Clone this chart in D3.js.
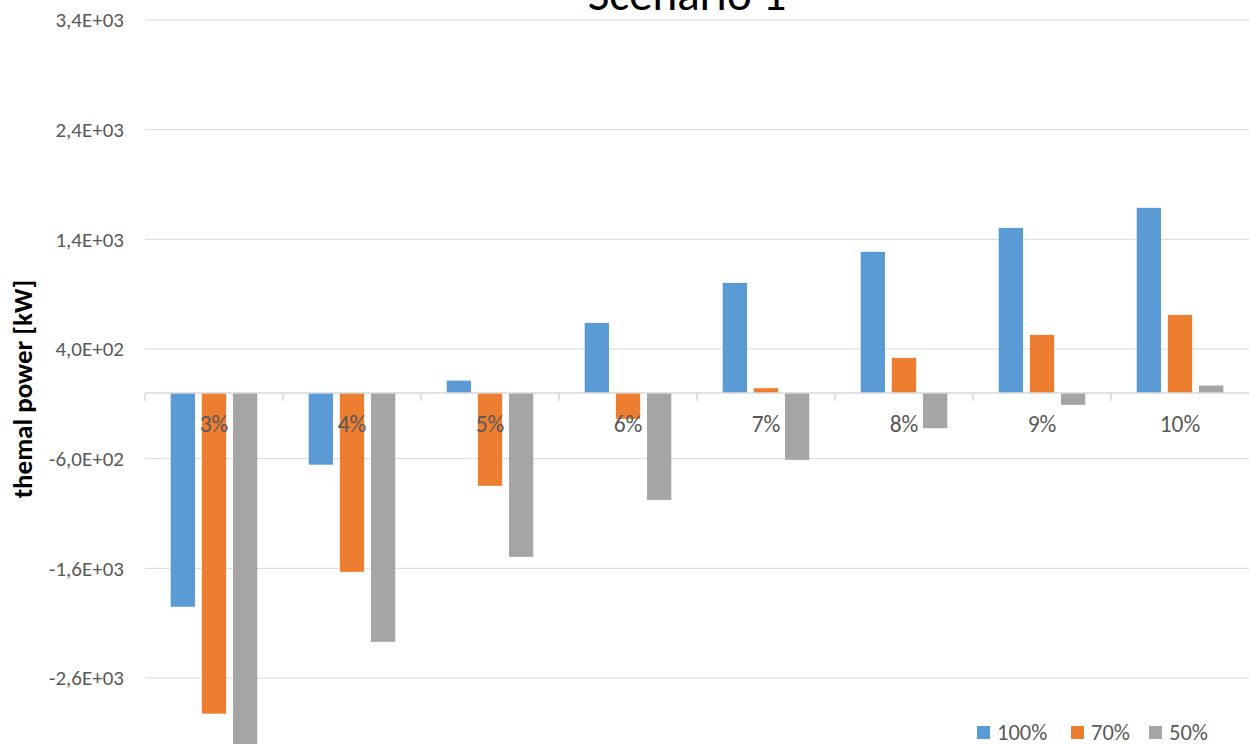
<!DOCTYPE html>
<html><head><meta charset="utf-8">
<script src="https://cdn.jsdelivr.net/npm/d3@7"></script>
<style>
html,body{margin:0;padding:0;background:#fff;overflow:hidden}
text{font-family:Carlito,Calibri,Lato,"Open Sans",sans-serif}
</style></head>
<body>
<svg id="c" width="1249" height="744"></svg>
<script>
const categories = ["3%","4%","5%","6%","7%","8%","9%","10%"];
const seriesNames = ["100%","70%","50%"];
const s100 = [-1950,-655,112,638,1003,1286,1504,1687];
const s70  = [-2925,-1632,-848,-237,43,319,529,711];
const s50  = [-3400,-2270,-1495,-976,-611,-322,-109,67];
const colors = ["#5B9BD5","#ED7D31","#A5A5A5"];
const yTicks = [3400,2400,1400,400,-600,-1600,-2600];
const title = "Scenario 1";
const yTitle = "themal power [kW]";

const series = [s100,s70,s50];
const svg = d3.select("#c");
const L = 145, R = 1249, T = 20, B = 787.7;

const y = d3.scaleLinear().domain([-3600,3400]).range([B,T]);
const x = d3.scaleBand().domain(categories).range([L,R]).paddingInner(0).paddingOuter(0);
const bw = x.bandwidth();
const xs = d3.scaleBand().domain(seriesNames).range([25.7, bw-25.7]).paddingInner(0.22).paddingOuter(0);

function fmt(v){
  if (v===0) return "0,0E+00";
  let e = Math.floor(Math.log10(Math.abs(v)));
  let m = v/Math.pow(10,e);
  let ms = m.toFixed(1).replace(".",",");
  let es = (e<0?"-":"+") + String(Math.abs(e)).padStart(2,"0");
  return ms+"E"+es;
}

// gridlines
svg.append("g").selectAll("line").data(yTicks).join("line")
  .attr("x1",L).attr("x2",R).attr("y1",d=>y(d)).attr("y2",d=>y(d))
  .attr("stroke","#d9d9d9").attr("stroke-width",1);

// y labels
svg.append("g").selectAll("text").data(yTicks).join("text")
  .attr("x",124).attr("y",d=>y(d)).attr("dy","0.35em")
  .attr("text-anchor","end").attr("font-size",21).attr("fill","#595959")
  .text(fmt);

// bars
categories.forEach((c,i)=>{
  series.forEach((s,j)=>{
    const v = s[i];
    svg.append("rect")
      .attr("x", x(c)+xs(seriesNames[j]))
      .attr("width", xs.bandwidth())
      .attr("y", y(Math.max(0,v)))
      .attr("height", Math.abs(y(v)-y(0)))
      .attr("fill", colors[j]);
  });
});

// x axis line and ticks
const y0 = y(0);
svg.append("line").attr("x1",L).attr("x2",R).attr("y1",y0).attr("y2",y0)
  .attr("stroke","#d9d9d9").attr("stroke-width",1.5);
const tickXs = categories.map(c=>x(c));
svg.append("g").selectAll("line").data(tickXs).join("line")
  .attr("x1",d=>d).attr("x2",d=>d).attr("y1",y0).attr("y2",y0+8)
  .attr("stroke","#d9d9d9").attr("stroke-width",1.5);

// category labels
svg.append("g").selectAll("text").data(categories).join("text")
  .attr("x",d=>x(d)+bw/2).attr("y",y0+39)
  .attr("text-anchor","middle").attr("font-size",23.5).attr("fill","#595959")
  .text(d=>d);

// title
svg.append("text").attr("x",687).attr("y",10).attr("text-anchor","middle")
  .attr("font-size",47).attr("fill","#000").text(title);

// y title
svg.append("text").attr("transform","translate(32,389) rotate(-90)")
  .attr("text-anchor","middle").attr("font-size",27).attr("font-weight","bold")
  .attr("fill","#000").text(yTitle);

// legend
const lx = [977,1071,1149];
seriesNames.forEach((n,j)=>{
  svg.append("rect").attr("x",lx[j]).attr("y",726).attr("width",13).attr("height",13).attr("fill",colors[j]);
  svg.append("text").attr("x",lx[j]+20).attr("y",740).attr("font-size",22.5).attr("fill","#595959").text(n);
});
</script>
</body></html>
